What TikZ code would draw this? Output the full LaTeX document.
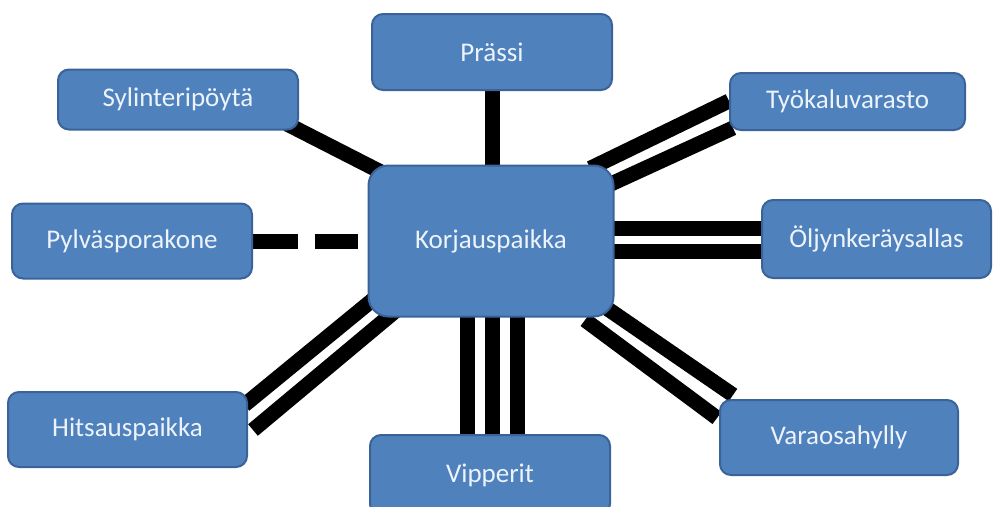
\documentclass[tikz,border=0pt]{standalone}
\usepackage{fontspec}
\setmainfont{Carlito}
\usetikzlibrary{calc}
\pgfdeclarelayer{paper}
\pgfdeclarelayer{background}
\pgfsetlayers{paper,background,main}
\definecolor{boxfill}{HTML}{4F81BD}
\definecolor{boxline}{HTML}{3A639A}
\definecolor{boxtext}{RGB}{236,243,251}
\tikzset{
  box/.style={draw=boxline, line width=2pt, fill=boxfill, rounded corners=11pt,
    text=boxtext, font=\fontsize{27}{32}\selectfont, inner sep=0pt, align=center},
  bigbox/.style={box, rounded corners=20pt},
  bar/.style={draw=black, line width=15pt, line cap=butt},
  dashbar/.style={bar, dash pattern=on 45pt off 17pt}
}
\begin{document}
\begin{tikzpicture}[x=1pt,y=-1pt]
\useasboundingbox (0,0) rectangle (993,506);
\clip (0,0) rectangle (993,506);
\begin{pgfonlayer}{paper}
  \fill[white] (0,0) rectangle (993,506);
\end{pgfonlayer}

% nodes
\node[bigbox, minimum width=245pt, minimum height=151pt] (K) at (491,241) {Korjauspaikka};
\node[box, minimum width=240pt, minimum height=76pt] (P) at (492,52) {Prässi};
\node[box, minimum width=240pt, minimum height=60pt] (S) at (178,99.5) {Sylinteripöytä};
\node[box, minimum width=235pt, minimum height=57pt] (T) at (847.5,101.5) {Työkaluvarasto};
\node[box, minimum width=240pt, minimum height=75pt] (Py) at (132,241) {Pylväsporakone};
\node[box, minimum width=229pt, minimum height=78pt] (O) at (876.5,239) {Öljynkeräysallas};
\node[box, minimum width=239pt, minimum height=75pt] (H) at (127.5,429.5) {Hitsauspaikka};
\node[box, minimum width=240pt, minimum height=80pt] (V) at (490,475) {Vipperit};
\node[box, minimum width=238pt, minimum height=75pt] (R) at (839,437.5) {Varaosahylly};

% connectors (behind the boxes)
\begin{pgfonlayer}{background}
  % Prässi
  \draw[bar] (P.center) -- (P.center |- K.center);
  % Sylinteripöytä
  \draw[bar] ([shift={(109,24.5)}]S.center) -- ([shift={(-110,-69)}]K.center);
  % Pylväsporakone (dashed)
  \draw[dashbar] (Py.east) -- ([xshift=-10pt]K.west);
  % Työkaluvarasto (double)
  \draw[bar] ([shift={(99.3,-72.7)}]K.center) -- ([shift={(-118.5,-0.5)}]T.center);
  \draw[bar] ([shift={(118.4,-56.3)}]K.center) -- ([shift={(-114.5,26.5)}]T.center);
  % Öljynkeräysallas (double)
  \draw[bar] ([yshift=13pt]K.center) -- ([yshift=13pt]K.center -| O.center);
  \draw[bar] ([yshift=-10pt]K.center) -- ([yshift=-10pt]K.center -| O.center);
  % Hitsauspaikka (double)
  \draw[bar] ([shift={(-113,54.5)}]K.center) -- ([shift={(117,-24.6)}]H.center);
  \draw[bar] ([shift={(-95.7,70.1)}]K.center) -- ([shift={(125.5,0.5)}]H.center);
  % Vipperit (triple)
  \draw[bar] ([xshift=-23.5pt]K.center) -- ([xshift=-23.5pt]K.center |- V.center);
  \draw[bar] ([xshift=1.5pt]K.center) -- ([xshift=1.5pt]K.center |- V.center);
  \draw[bar] ([xshift=26.5pt]K.center) -- ([xshift=26.5pt]K.center |- V.center);
  % Varaosahylly (double)
  \draw[bar] ([shift={(114,66)}]K.center) -- ([shift={(-106,-42.5)}]R.center);
  \draw[bar] ([shift={(94,79)}]K.center) -- ([shift={(-122,-19.5)}]R.center);
\end{pgfonlayer}
\end{tikzpicture}
\end{document}
